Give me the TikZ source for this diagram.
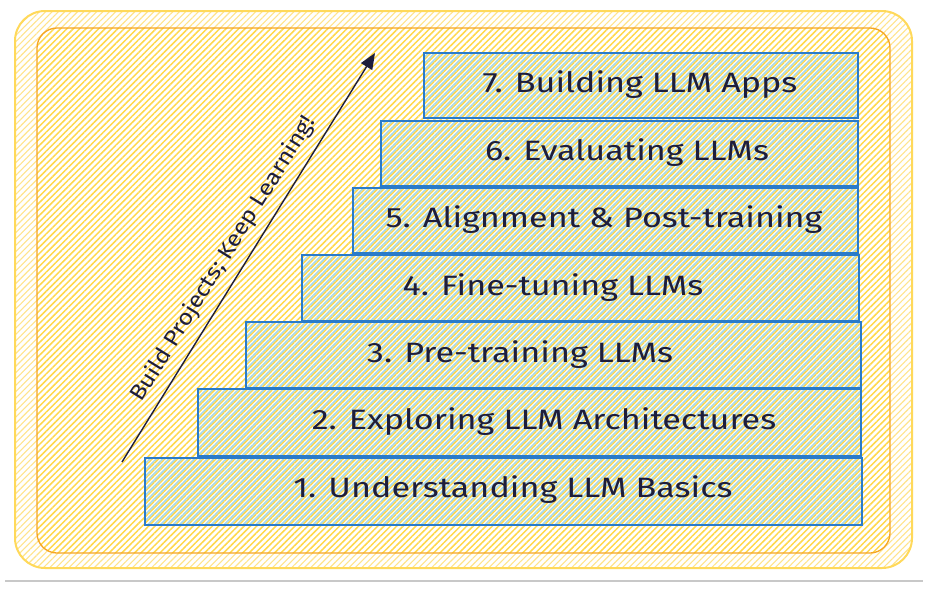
\documentclass[tikz,border=0pt]{standalone}
\usepackage{fontspec}
\usepackage{graphicx}
\setmainfont{Fira Sans}
\usetikzlibrary{patterns.meta,arrows.meta}
\definecolor{ink}{HTML}{1E1E3C}
\definecolor{outerline}{HTML}{FFD95A}
\definecolor{innerline}{HTML}{F5A524}
\definecolor{hatchY}{HTML}{FFE48A}
\definecolor{hatchY2}{HTML}{FFD84A}
\definecolor{boxline}{HTML}{2A7BC9}
\definecolor{hatchB}{HTML}{A9D9EA}
\definecolor{grayline}{HTML}{C8C8C8}
\newcommand{\widetext}[2][1.22]{\scalebox{#1}[1]{#2}}
\tikzset{
  outerhatch/.style={pattern={Lines[angle=45,distance=4.5pt,line width=1.1pt]},pattern color=hatchY},
  innerhatch/.style={pattern={Lines[angle=45,distance=4.5pt,line width=1.5pt]},pattern color=hatchY2},
  stepbox/.style={draw=boxline,line width=1.6pt,anchor=north west,inner sep=0pt,
    pattern={Lines[angle=45,distance=4.5pt,yshift=2.25pt,line width=1.7pt]},pattern color=hatchB},
  lbl/.style={text=ink,font=\fontsize{28}{32}\selectfont,inner sep=0pt},
  arrowlbl/.style={text=ink,font=\fontsize{22}{26}\selectfont,inner sep=0pt},
}
\begin{document}
\begin{tikzpicture}[x=1pt,y=-1pt]
\useasboundingbox (0,0) rectangle (937,592);
% outer and inner frames
\fill[white] (15,11) rectangle (912,568);
\path[outerhatch,rounded corners=30pt] (15,11) rectangle (912,568);
\draw[outerline,line width=2pt,rounded corners=30pt] (15,11) rectangle (912,568);
\fill[white,rounded corners=20pt] (37,28) rectangle (890,553);
\path[innerhatch,rounded corners=20pt] (37,28) rectangle (890,553);
\draw[innerline,line width=1.3pt,rounded corners=20pt] (37,28) rectangle (890,553);
% steps
\node[stepbox,minimum width=434pt,minimum height=65pt] (b7) at (423,52) {};
\node[stepbox,minimum width=477pt,minimum height=65pt] (b6) at (380,120) {};
\node[stepbox,minimum width=505pt,minimum height=65pt] (b5) at (352,187) {};
\node[stepbox,minimum width=557pt,minimum height=66pt] (b4) at (301,254) {};
\node[stepbox,minimum width=615pt,minimum height=66pt] (b3) at (245,321) {};
\node[stepbox,minimum width=663pt,minimum height=67pt] (b2) at (197,388) {};
\node[stepbox,minimum width=717pt,minimum height=67pt] (b1) at (144,457) {};
% labels
\node[lbl] (t7) at (640,85) {\widetext{7. Building LLM Apps}};
\node[lbl] (t6) at (627,153) {\widetext{6. Evaluating LLMs}};
\node[lbl] (t5) at (604,220) {\widetext{5. Alignment \& Post-training}};
\node[lbl] (t4) at (553,288) {\widetext{4. Fine-tuning LLMs}};
\node[lbl] (t3) at (520,355) {\widetext{3. Pre-training LLMs}};
\node[lbl] (t2) at (544,422) {\widetext{2. Exploring LLM Architectures}};
\node[lbl] (t1) at (513,490) {\widetext{1. Understanding LLM Basics}};
% arrow
\coordinate (as) at (122,462);
\coordinate (ae) at (375,53);
\draw[ink,line width=1.4pt,-{Triangle[length=16pt,width=13pt]}] (as) -- (ae)
  node[arrowlbl,pos=0.47,sloped,above=9pt] (al) {\widetext[1.12]{Build Projects; Keep Learning!}};
% bottom rule
\coordinate (g1) at (5,581);
\coordinate (g2) at (923,581);
\draw[grayline,line width=2pt] (g1) -- (g2);
\end{tikzpicture}
\end{document}
